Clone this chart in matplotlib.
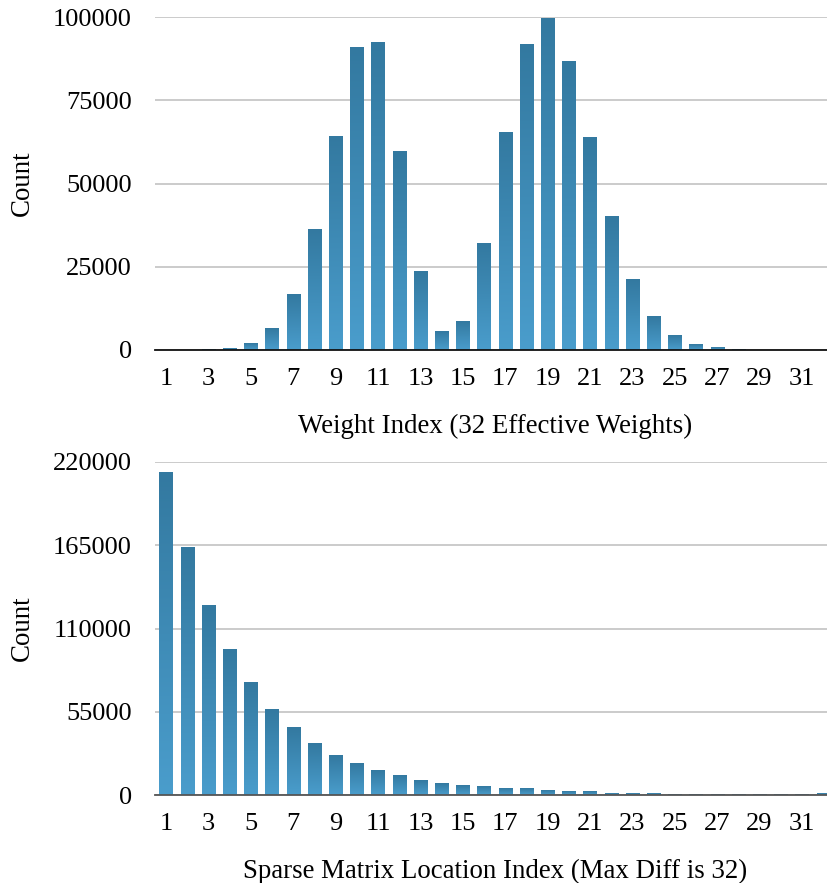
import numpy as np
import matplotlib
matplotlib.use("Agg")
import matplotlib.pyplot as plt
from matplotlib.colors import LinearSegmentedColormap

plt.rcParams['font.family'] = ['Liberation Serif', 'DejaVu Serif']
plt.rcParams['font.size'] = 19

# Histogram of weight indices (32 effective weights)
weight_index = list(range(1, 33))
weight_counts = [0, 0, 100, 600, 1900, 6400, 16600, 36300, 64000, 90700, 92200, 59500,
                 23700, 5500, 8500, 32100, 65200, 91600, 99500, 86500, 63700, 40000,
                 21300, 10000, 4300, 1600, 700, 150, 0, 0, 0, 0]

# Histogram of sparse matrix location differences (max diff 32)
loc_index = list(range(1, 33))
loc_counts = [212900, 163800, 125500, 95800, 74600, 56800, 44300, 33700, 26400, 21100,
              16500, 13200, 9900, 7900, 6600, 5300, 4600, 4000, 2700, 2000, 2000, 1300,
              1300, 1300, 600, 600, 600, 100, 100, 100, 100, 1300]

tick_labels = [str(i) for i in range(1, 32, 2)]

bar_cmap = LinearSegmentedColormap.from_list("bar", ["#4a9dcc", "#3379a0"])
grad = np.linspace(0, 1, 256).reshape(-1, 1)


def gradient_bars(ax, xs, ys, width=0.62):
    bars = ax.bar(xs, ys, width=width, color="none", zorder=2)
    for b in bars:
        x0, w, h = b.get_x(), b.get_width(), b.get_height()
        if h <= 0:
            continue
        ax.imshow(grad, cmap=bar_cmap, origin="lower", aspect="auto",
                  extent=(x0, x0 + w, 0, h), zorder=2, interpolation="bilinear")


fig = plt.figure(figsize=(8.27, 8.83), dpi=100)
W, H = 827, 883
left = 155.4 / W
width = 678.4 / W
ax1 = fig.add_axes([left, 1 - 350 / H, width, 333 / H])
ax2 = fig.add_axes([left, 1 - 795 / H, width, 333 / H])

panels = [
    (ax1, weight_index, weight_counts, 100000, [0, 25000, 50000, 75000, 100000],
     "Weight Index (32 Effective Weights)", "#111111"),
    (ax2, loc_index, loc_counts, 220000, [0, 55000, 110000, 165000, 220000],
     "Sparse Matrix Location Index (Max Diff is 32)", "#555555"),
]

for ax, xs, ys, ymax, yticks, xlabel, axis_color in panels:
    gradient_bars(ax, xs, ys)
    ax.set_xlim(0.5, 32.5)
    ax.set_ylim(0, ymax)
    ax.set_yticks(yticks)
    ax.set_yticklabels([str(v) for v in yticks])
    ax.set_xticks(list(range(1, 32, 2)))
    ax.set_xticklabels(tick_labels)
    ax.tick_params(axis="y", length=0, pad=17)
    ax.tick_params(axis="x", length=0, pad=13)
    ax.yaxis.grid(True, color="#bdbdbd", linewidth=1.1, zorder=0)
    ax.set_axisbelow(True)
    for s in ["top", "right", "left"]:
        ax.spines[s].set_visible(False)
    ax.spines["bottom"].set_color(axis_color)
    ax.spines["bottom"].set_linewidth(1.3)
    ax.spines["bottom"].set_zorder(3)
    ax.set_xlabel(xlabel, labelpad=17, fontsize=19.4)
    ax.set_ylabel("Count", fontsize=19.4)
    ax.yaxis.set_label_coords(-0.178, 0.5)

fig.savefig("out.png", dpi=100)
